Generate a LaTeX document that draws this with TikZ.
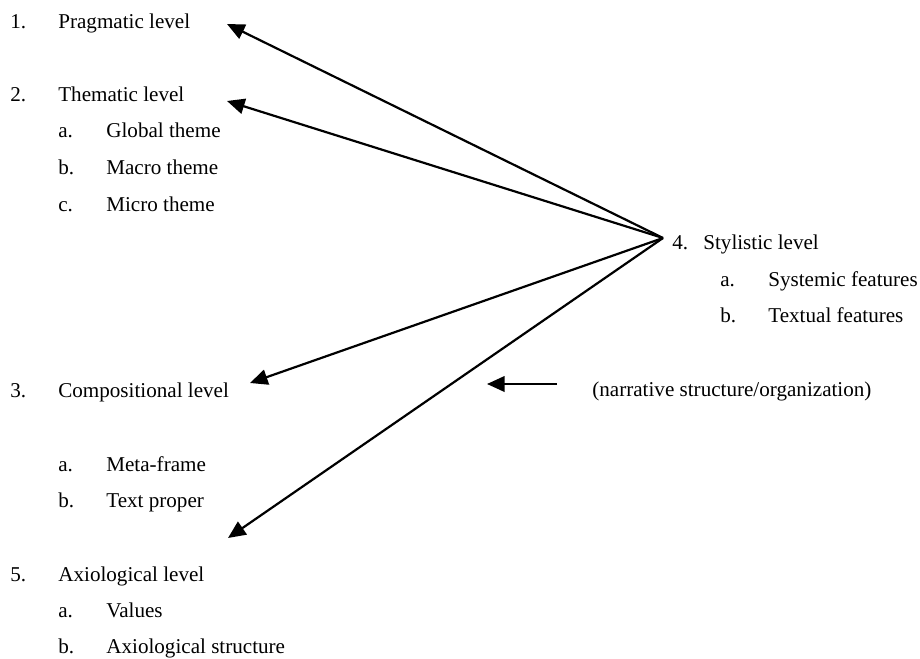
\documentclass[tikz,border=0pt]{standalone}
\usepackage{fontspec}
\setmainfont{Liberation Serif}
\usepackage{tikz}
\usetikzlibrary{
    arrows.meta,
    positioning
}
\tikzset{
    % Base style for all list entries
    entry base/.style={
        font=\fontsize{12}{14}\selectfont,
        anchor=base west,
        inner sep=0pt,
        text=black,
    },
    % Numbers and letters of the list
    marker/.style={
        entry base,
    },
    % Names of the levels and their parts
    level/.style={
        entry base,
    },
    % Arrows out of the stylistic level
    pointer/.style={
        -{Triangle[length=10pt, width=8.8pt]},
        line width=1.25pt,
        draw=black,
    },
}

\begin{document}
\begin{tikzpicture}[x=0.5687pt, y=-0.5687pt]
    \useasboundingbox (0,0) rectangle (920,658);

    % left column
    \node (n1) [marker] at (10,29) {1.};
    \node (prag) [level] at (58,29) {Pragmatic level};
    \node (n2) [marker] at (10,102) {2.};
    \node (them) [level] at (58,102) {Thematic level};
    \node (n2a) [marker] at (58,138) {a.};
    \node (themA) [level] at (106,138) {Global theme};
    \node (n2b) [marker] at (58,175) {b.};
    \node (themB) [level] at (106,175) {Macro theme};
    \node (n2c) [marker] at (58,212) {c.};
    \node (themC) [level] at (106,212) {Micro theme};

    \node (n3) [marker] at (10,397) {3.};
    \node (comp) [level] at (58,397) {Compositional level};
    \node (n3a) [marker] at (58,471) {a.};
    \node (compA) [level] at (106,471) {Meta-frame};
    \node (n3b) [marker] at (58,507) {b.};
    \node (compB) [level] at (106,507) {Text proper};

    \node (n5) [marker] at (10,581) {5.};
    \node (axio) [level] at (58,581) {Axiological level};
    \node (n5a) [marker] at (58,617) {a.};
    \node (axioA) [level] at (106,617) {Values};
    \node (n5b) [marker] at (58,653) {b.};
    \node (axioB) [level] at (106,653) {Axiological structure};

    % right column
    \node (n4) [marker] at (672,250) {4.};
    \node (styl) [level] at (703,250) {Stylistic level};
    \node (n4a) [marker] at (720,286) {a.};
    \node (stylA) [level] at (768,286) {Systemic features};
    \node (n4b) [marker] at (720,322) {b.};
    \node (stylB) [level] at (768,322) {Textual features};

    \node (narr) [level] at (592,396) {(narrative structure/organization)};

    % arrow ends
    \coordinate (hub) at (663,238);
    \coordinate (pragTip) at (227,24);
    \coordinate (themTip) at (227,101);
    \coordinate (compTip) at (250,383);
    \coordinate (axioTip) at (228,538);
    \coordinate (narrTail) at (557,384);
    \coordinate (narrTip) at (487,384);

    \draw [pointer] (hub) -- (pragTip);
    \draw [pointer] (hub) -- (themTip);
    \draw [pointer] (hub) -- (compTip);
    \draw [pointer] (hub) -- (axioTip);
    \draw [pointer] (narrTail) -- (narrTip);
\end{tikzpicture}
\end{document}
